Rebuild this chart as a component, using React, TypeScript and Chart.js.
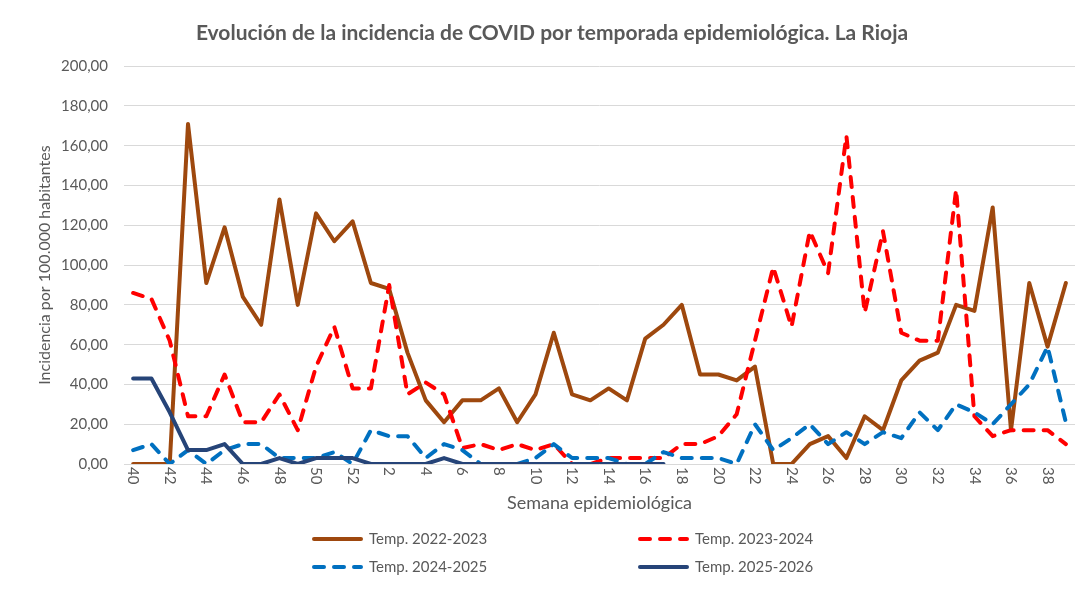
import React, { useEffect, useRef } from 'react';
import { Chart, registerables } from 'chart.js';

Chart.register(...registerables);

const weeks = [
  '40', '41', '42', '43', '44', '45', '46', '47', '48', '49', '50', '51', '52',
  '1', '2', '3', '4', '5', '6', '7', '8', '9', '10', '11', '12', '13', '14', '15', '16', '17', '18', '19', '20',
  '21', '22', '23', '24', '25', '26', '27', '28', '29', '30', '31', '32', '33', '34', '35', '36', '37', '38', '39',
];

const temp20222023 = [
  0, 0, 0, 171, 91, 119, 84, 70, 133, 80, 126, 112, 122,
  91, 88, 56, 32, 21, 32, 32, 38, 21, 35, 66, 35, 32, 38, 32, 63, 70,
  80, 45, 45, 42, 49, 0, 0, 10, 14, 3, 24, 17, 42, 52, 56, 80, 77, 129, 17, 91, 59, 91,
];

const temp20232024 = [
  86, 83, 62, 24, 24, 45, 21, 21, 35, 17, 49, 69, 38,
  38, 90, 35, 41, 35, 8, 10, 7, 10, 7, 10, 0, 0, 3, 3, 3, 3,
  10, 10, 14, 25, 62, 99, 69, 117, 96, 165, 76, 117, 66, 62, 62, 138, 24, 14, 17, 17, 17, 10,
];

const temp20242025 = [
  7, 10, 0, 7, 0, 7, 10, 10, 3, 3, 3, 6, 0,
  17, 14, 14, 3, 10, 7, 0, 0, 0, 3, 10, 3, 3, 3, 0, 0, 6,
  3, 3, 3, 0, 20, 7, 13, 20, 10, 16, 10, 16, 13, 26, 17, 30, 26, 20, 30, 40, 59, 21,
];

const temp20252026 = [
  43, 43, 26, 7, 7, 10, 0, 0, 3, 0, 3, 3, 3,
  0, 0, 0, 0, 3, 0, 0, 0, 0, 0, 0, 0, 0, 0, 0, 0, 0,
];

const seriesLabels = ['Temp. 2022-2023', 'Temp. 2023-2024', 'Temp. 2024-2025', 'Temp. 2025-2026'];

const chartTitle = 'Evolución de la incidencia de COVID por temporada epidemiológica. La Rioja';
const yTitle = 'Incidencia por 100.000 habitantes';
const xTitle = 'Semana epidemiológica';

const FONT = 'Lato, "Open Sans", "DejaVu Sans", sans-serif';
const TEXT = '#595959';
const GRID = '#d9d9d9';

const fmt = (v: number) => Number(v).toFixed(2).replace('.', ',');

export default function App() {
  const ref = useRef<HTMLCanvasElement | null>(null);

  useEffect(() => {
    if (!ref.current) return;

    const xLabelsPlugin = {
      id: 'xLabelsRotated',
      afterDraw(chart: any) {
        const { ctx, chartArea, scales } = chart;
        const xs = scales.x;
        ctx.save();
        ctx.font = `15px ${FONT}`;
        ctx.fillStyle = TEXT;
        ctx.textAlign = 'left';
        ctx.textBaseline = 'middle';
        weeks.forEach((w, i) => {
          if (i % 2 !== 0) return;
          const px = xs.getPixelForValue(i);
          ctx.save();
          ctx.translate(px, chartArea.bottom + 3);
          ctx.rotate(Math.PI / 2);
          ctx.fillText(w, 0, 0);
          ctx.restore();
        });
        ctx.restore();
      },
    };

    const legendPlugin = {
      id: 'twoColLegend',
      afterDraw(chart: any) {
        const { ctx } = chart;
        const base = chart.height - 72;
        const cols = [304, 630];
        const rows = [base + 25, base + 53];
        ctx.save();
        ctx.font = `15px ${FONT}`;
        ctx.textBaseline = 'middle';
        ctx.textAlign = 'left';
        chart.data.datasets.forEach((ds: any, i: number) => {
          const x = cols[i % 2];
          const y = rows[Math.floor(i / 2)];
          ctx.save();
          ctx.strokeStyle = ds.borderColor;
          ctx.lineWidth = ds.borderWidth;
          ctx.lineCap = 'round';
          ctx.setLineDash(ds.borderDash || []);
          ctx.beginPath();
          ctx.moveTo(x + 2, y);
          ctx.lineTo(x + 49, y);
          ctx.stroke();
          ctx.restore();
          ctx.fillStyle = TEXT;
          ctx.fillText(ds.label, x + 57, y);
        });
        ctx.restore();
      },
    };

    const common = {
      borderWidth: 4,
      pointRadius: 0,
      pointHoverRadius: 0,
      tension: 0,
      fill: false,
      borderCapStyle: 'round',
      borderJoinStyle: 'round',
    };

    const chart = new Chart(ref.current, {
      type: 'line',
      data: {
        labels: weeks,
        datasets: [
          { ...common, label: seriesLabels[0], data: temp20222023, borderColor: '#9e480e', order: 3 },
          { ...common, label: seriesLabels[1], data: temp20232024, borderColor: '#ff0000', borderDash: [10, 10], order: 2 },
          { ...common, label: seriesLabels[2], data: temp20242025, borderColor: '#0070c0', borderDash: [10, 10], order: 1 },
          { ...common, label: seriesLabels[3], data: temp20252026, borderColor: '#264478', order: 0 },
        ] as any,
      },
      options: {
        animation: false,
        responsive: true,
        maintainAspectRatio: false,
        layout: { padding: { left: 21, right: 6, top: 0, bottom: 72 } },
        events: [],
        plugins: {
          legend: { display: false },
          tooltip: { enabled: false },
          title: {
            display: true,
            text: chartTitle,
            color: TEXT,
            font: { family: FONT, size: 21, weight: 'bold' },
            padding: { top: 13, bottom: 20 },
          },
        },
        scales: {
          x: {
            type: 'category',
            offset: true,
            grid: { display: false },
            border: { display: false },
            ticks: { display: false },
            title: {
              display: true,
              text: xTitle,
              color: TEXT,
              font: { family: FONT, size: 18 },
              padding: { top: 0, bottom: 0 },
            },
            afterFit: (s: any) => {
              s.height = 50;
            },
          },
          y: {
            min: 0,
            max: 200,
            ticks: {
              stepSize: 20,
              padding: 16,
              color: TEXT,
              font: { family: FONT, size: 15 },
              callback: (v: any) => fmt(v),
            },
            grid: { color: GRID, lineWidth: 1, drawTicks: false },
            border: { display: false },
            title: {
              display: true,
              text: yTitle,
              color: TEXT,
              font: { family: FONT, size: 16 },
              padding: { top: 6, bottom: 0 },
            },
            afterFit: (s: any) => {
              s.width = 95;
            },
          },
        },
      } as any,
      plugins: [xLabelsPlugin, legendPlugin],
    });

    return () => chart.destroy();
  }, []);

  return (
    <div
      style={{
        marginLeft: -1,
        marginTop: -1,
        width: 1074,
        height: 579,
        boxSizing: 'border-box',
        borderLeft: `1px solid ${GRID}`,
        borderTop: `1px solid ${GRID}`,
        position: 'relative',
      }}
    >
      <canvas ref={ref} />
    </div>
  );
}
